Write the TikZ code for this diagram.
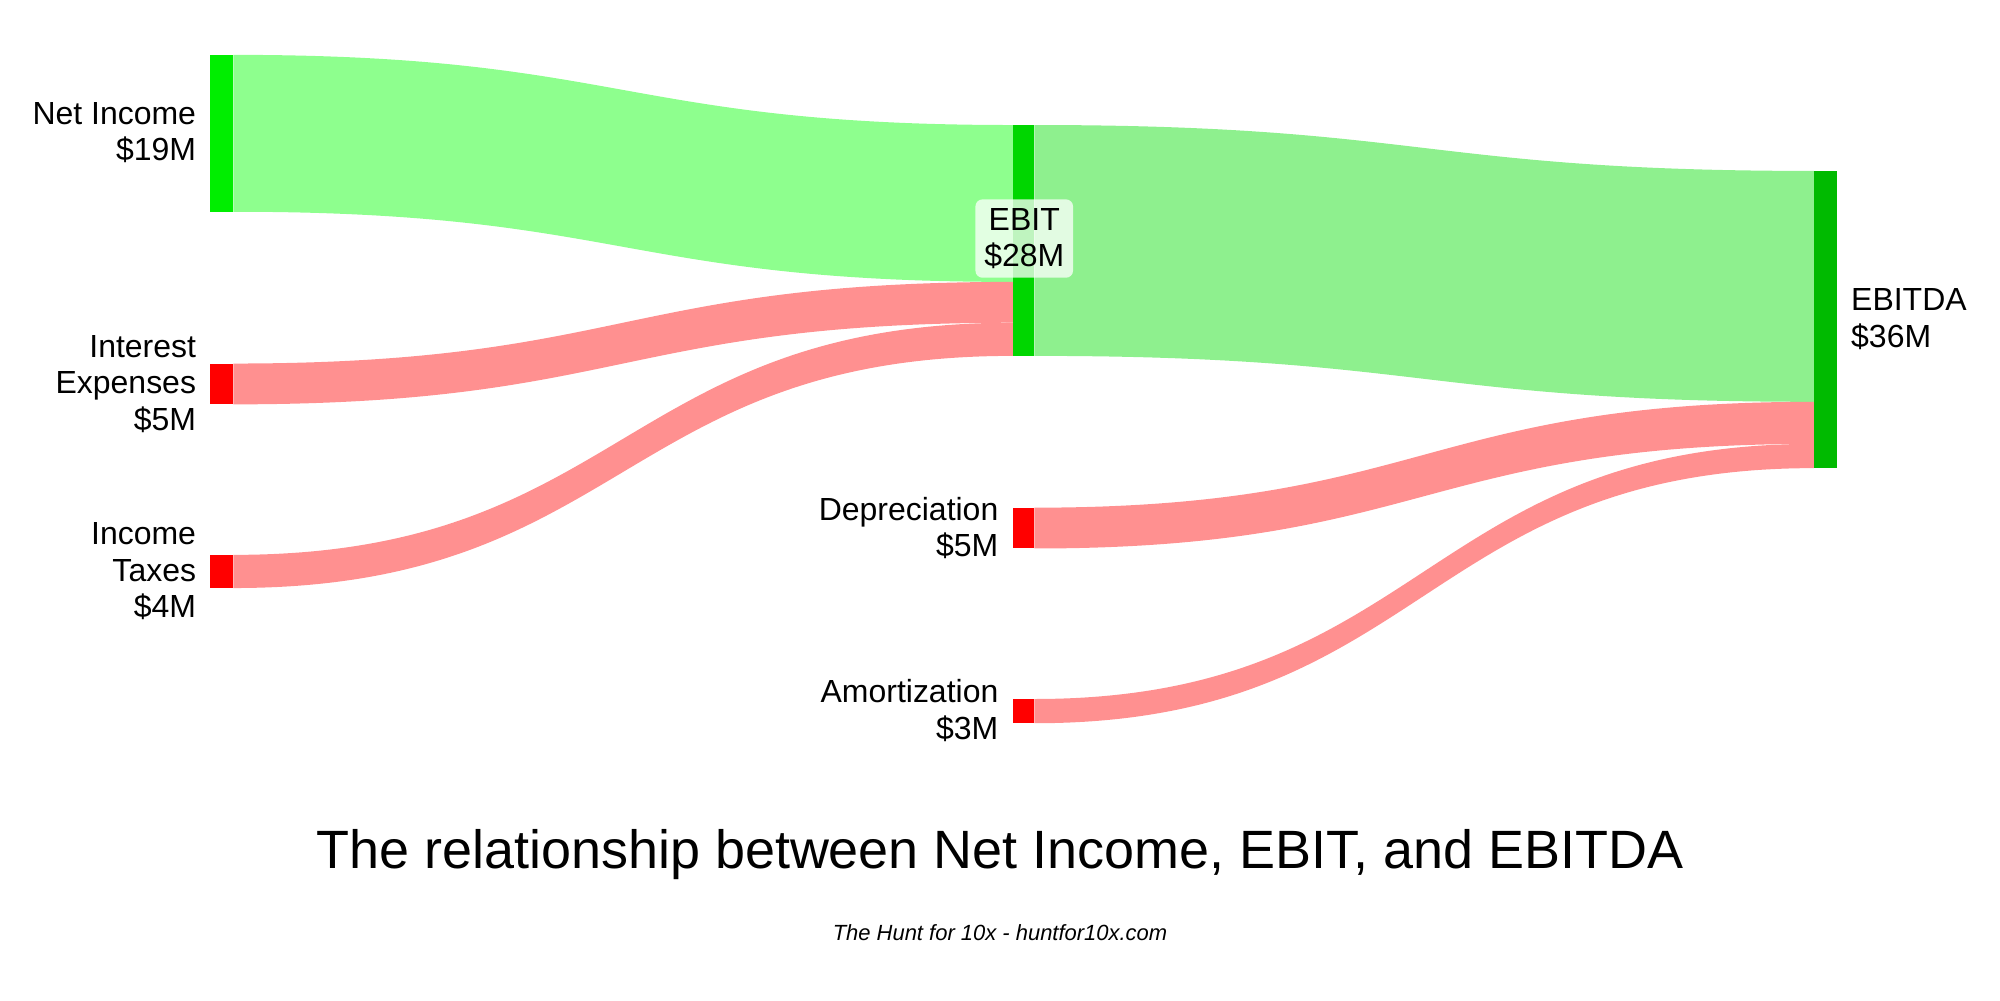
\documentclass[tikz,border=0pt]{standalone}
\usepackage{fontspec}
\setmainfont{Liberation Sans}
\usetikzlibrary{positioning}
\definecolor{gainbar}{RGB}{0,238,0}
\definecolor{ebitbar}{RGB}{0,214,0}
\definecolor{ebitdabar}{RGB}{0,186,0}
\definecolor{lossbar}{RGB}{255,0,0}
\definecolor{gainflow}{RGB}{142,255,142}
\definecolor{ebitflow}{RGB}{142,240,142}
\definecolor{lossflow}{RGB}{255,144,144}
% ribbon from (x1, y1a..y1b) to (x2, y2a..y2b)
\newcommand{\ribbon}[7]{%
  \pgfmathsetmacro{\xm}{(#2+#5)/2}
  \fill[#1] (#2,#3) .. controls (\xm,#3) and (\xm,#6) .. (#5,#6)
    -- (#5,#7) .. controls (\xm,#7) and (\xm,#4) .. (#2,#4) -- cycle;}
\begin{document}
\begin{tikzpicture}[x=0.012755cm, y=-0.012755cm,
    lbl/.style={font=\fontsize{9.1}{10.4}\selectfont, align=right, inner sep=1pt},
    rlbl/.style={font=\fontsize{9.1}{10.4}\selectfont, align=left, inner sep=1pt}
]
\useasboundingbox (0,0) rectangle (1568,784);

% Flows
\ribbon{gainflow}{183}{43}{166}{794}{98}{221}
\ribbon{lossflow}{183}{285}{317}{794}{221}{253}
\ribbon{lossflow}{183}{435}{461}{794}{253}{279}
\ribbon{ebitflow}{811}{98}{279}{1422}{134}{315}
\ribbon{lossflow}{811}{398}{430}{1422}{315}{348}
\ribbon{lossflow}{811}{548}{567}{1422}{348}{367}

% Bars
\fill[gainbar] (165,43) rectangle (183,166);
\fill[lossbar] (165,285) rectangle (183,317);
\fill[lossbar] (165,435) rectangle (183,461);
\fill[ebitbar] (794,98) rectangle (811,279);
\fill[lossbar] (794,398) rectangle (811,430);
\fill[lossbar] (794,548) rectangle (811,567);
\fill[ebitdabar] (1422,134) rectangle (1440,367);

% Labels
\node[lbl, anchor=east] (netincome) at (157,104) {Net Income\\\$19M};
\node[lbl, anchor=east] (interest) at (157,301) {Interest\\Expenses\\\$5M};
\node[lbl, anchor=east] (taxes) at (157,448) {Income\\Taxes\\\$4M};
\node[lbl, anchor=east] (deprec) at (786,414) {Depreciation\\\$5M};
\node[lbl, anchor=east] (amort) at (786,557) {Amortization\\\$3M};
\node[rlbl, anchor=west] (ebitda) at (1448,250) {EBITDA\\\$36M};
\node[font=\fontsize{9.1}{10.4}\selectfont, align=center, fill=white, fill opacity=0.75,
  text opacity=1, rounded corners=2pt, inner sep=2.5pt] (ebit) at (803,187) {EBIT\\\$28M};

% Title
\node[font=\fontsize{15.35}{18}\selectfont] (title) at (784,670) {The relationship between Net Income, EBIT, and EBITDA};
\node[font=\fontsize{6.25}{7}\selectfont\itshape] (credit) at (784,731) {The Hunt for 10x - huntfor10x.com};
\end{tikzpicture}
\end{document}
